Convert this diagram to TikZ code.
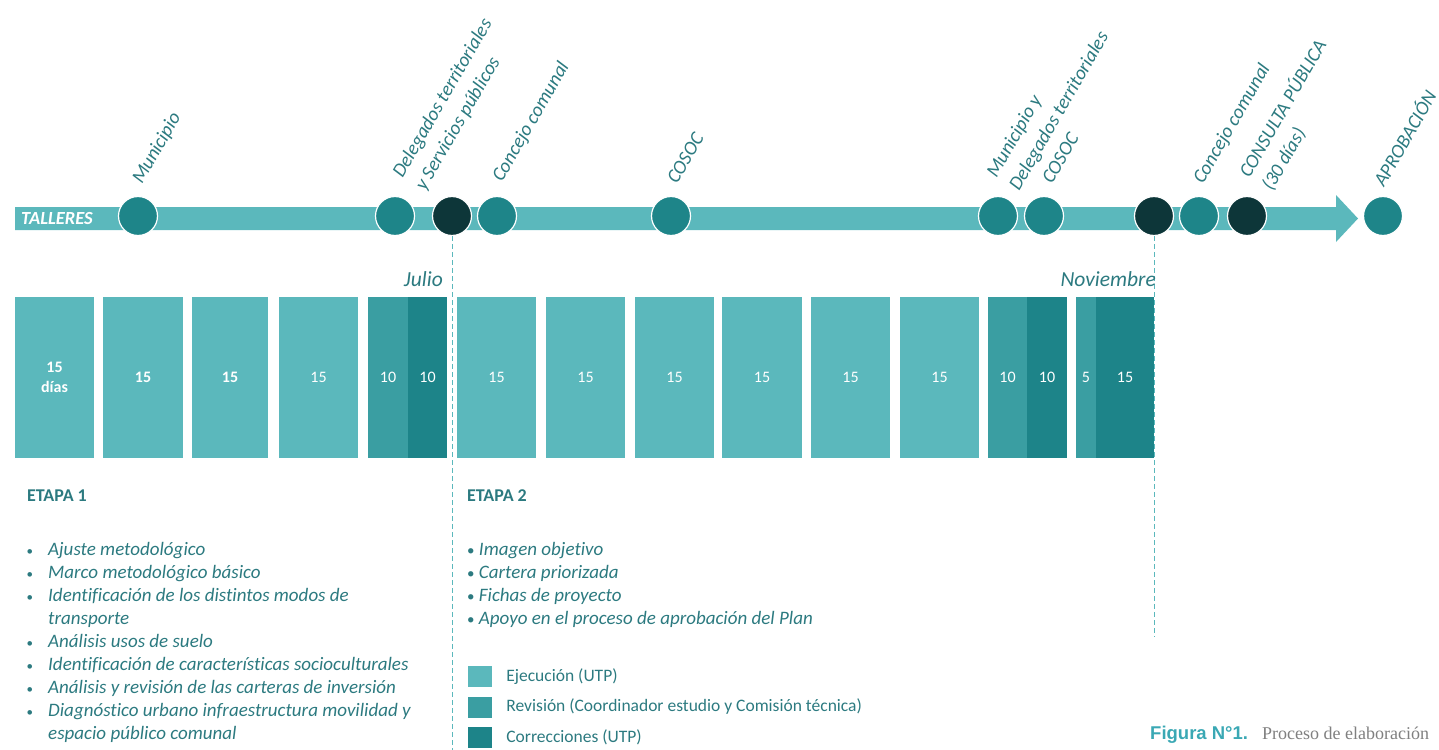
\documentclass[tikz,border=0pt]{standalone}
\usepackage{fontspec}
\setmainfont{Carlito}[Ligatures=NoCommon]
\newfontfamily\capsans{Liberation Sans}
\newfontfamily\capserif{Liberation Serif}
\usetikzlibrary{calc,positioning}

\definecolor{ejec}{RGB}{91,184,188}
\definecolor{revi}{RGB}{58,158,162}
\definecolor{corr}{RGB}{29,132,137}
\definecolor{hito}{RGB}{30,133,137}
\definecolor{oscuro}{RGB}{13,54,57}
\definecolor{tinta}{RGB}{44,122,128}
\definecolor{figc}{RGB}{58,168,180}

\newcommand{\bul}{\makebox[0pt][r]{\upshape\fontsize{13}{13}\selectfont\textbullet\hspace{15pt}}}

\begin{document}
\begin{tikzpicture}[x=1pt, y=-1pt,
  dot/.style = {circle, draw=white, line width=1.2pt, minimum size=39pt, inner sep=0pt},
  lbl/.style = {rotate=60, anchor=base west, align=left, inner sep=0pt, text=tinta,
                font=\itshape\fontsize{19.5}{26}\selectfont},
  box/.style = {minimum height=161pt, inner sep=0pt, text=white, align=center,
                font=\fontsize{16}{20}\selectfont},
  numb/.style = {font=\bfseries\fontsize{16}{20}\selectfont},
  num/.style = {},
  listtext/.style = {anchor=base west, inner sep=0pt, text=tinta,
                     font=\itshape\fontsize{19}{23}\selectfont},
  legsq/.style = {minimum width=24pt, minimum height=21pt, inner sep=0pt},
  legtext/.style = {anchor=west, inner sep=0pt, text=tinta, font=\fontsize{17.5}{22}\selectfont},
  mes/.style = {anchor=base east, inner sep=0pt, text=tinta, font=\itshape\fontsize{21.5}{25}\selectfont},
  etapa/.style = {anchor=base west, inner sep=0pt, text=tinta, font=\bfseries\fontsize{18}{22}\selectfont},
  corte/.style = {ejec, line width=1pt, dash pattern=on 5pt off 3pt}]
\useasboundingbox (0,0) rectangle (1439,749);

% linea de talleres
\fill[ejec] (15,207) -- (1336,207) -- (1336,195) -- (1358,218.5) -- (1336,242)
  -- (1336,230) -- (15,230) -- cycle;
\node[anchor=west, inner sep=0pt, text=white, font=\bfseries\itshape\fontsize{18.5}{20}\selectfont]
  (talleres) at (21,219) {TALLERES};

% hitos
\foreach \x/\c [count=\i] in {138/hito, 395/hito, 452/oscuro, 497/hito, 671/hito, 998/hito,
    1044/hito, 1154/oscuro, 1199/hito, 1247/oscuro, 1383/hito}
  \node[dot, fill=\c] (c\i) at (\x,216) {};

% etiquetas (base de la ultima linea)
\foreach \i/\dx/\dy/\t in {1/4/-31/Municipio,
    2/30/-24/Delegados territoriales\\y Servicios públicos,
    4/5/-33/Concejo comunal, 5/6/-31/COSOC,
    6/21/-24/Municipio y\\Delegados territoriales,
    7/8/-31/COSOC, 9/4/-31/Concejo comunal,
    10/25/-24/CONSULTA PÚBLICA\\(30 días), 11/1/-28/APROBACIÓN}
  \node[lbl] (l\i) at ($(c\i)+(\dx,\dy)$) {\t};

% bloques de dias
\foreach \a/\b/\c/\f/\t [count=\i] in {15/94/ejec/numb/15\\días, 103/183/ejec/numb/15,
    192/268/ejec/numb/15, 279/358/ejec/num/15, 368/408/revi/num/10, 408/447/corr/num/10,
    457/536/ejec/num/15, 546/625/ejec/num/15, 635/714/ejec/num/15, 722/802/ejec/num/15,
    811/890/ejec/num/15, 900/979/ejec/num/15, 988/1027/revi/num/10, 1027/1067/corr/num/10,
    1076/1096/revi/num/5, 1096/1154/corr/num/15}
  \node[box, fill=\c, \f, minimum width={(\b-\a)*1pt}] (b\i) at ({(\a+\b)/2},377.5) {\t};

\coordinate (finJulio) at (452,760);
\coordinate (finNov) at (1154,637);
\draw[corte] (c3.south) -- (finJulio);
\draw[corte] (c8.south) -- (finNov);

\node[mes] (julio) at (443,286) {Julio};
\node[mes] (noviembre) at (1156,286) {Noviembre};

% etapas
\node[etapa] (etapa1) at (27,501) {ETAPA 1};
\node[etapa] (etapa2) at (467,501) {ETAPA 2};

\foreach \t [count=\i from 0] in {\bul Ajuste metodológico, \bul Marco metodológico básico,
    \bul Identificación de los distintos modos de, transporte, \bul Análisis usos de suelo,
    \bul Identificación de características socioculturales,
    \bul Análisis y revisión de las carteras de inversión,
    \bul Diagnóstico urbano infraestructura movilidad y, espacio público comunal}
  \node[listtext] (uno\i) at (48,{555+23*\i}) {\t};

\foreach \t [count=\i from 0] in {Imagen objetivo, Cartera priorizada, Fichas de proyecto,
    Apoyo en el proceso de aprobación del Plan}
  \node[listtext] (dos\i) at (467,{555+23*\i}) {{\upshape\fontsize{15}{15}\selectfont\textbullet}\ \t};

% leyenda
\foreach \c/\t [count=\i from 0] in {ejec/Ejecución (UTP),
    revi/Revisión (Coordinador estudio y Comisión técnica), corr/Correcciones (UTP)} {
  \node[legsq, fill=\c] (sq\i) at (480,{676.5+30.5*\i}) {};
  \node[legtext, right=14pt of sq\i] (lt\i) {\t};
}

\node[anchor=base west, inner sep=0pt, text=figc, font=\capsans\bfseries\fontsize{18.5}{20}\selectfont]
  (fig) at (1150,739) {Figura N°1.};
\node[anchor=base west, inner sep=0pt, text=gray, font=\capserif\fontsize{18}{20}\selectfont]
  (figtxt) at (1262,739) {Proceso de elaboración};
\end{tikzpicture}
\end{document}
